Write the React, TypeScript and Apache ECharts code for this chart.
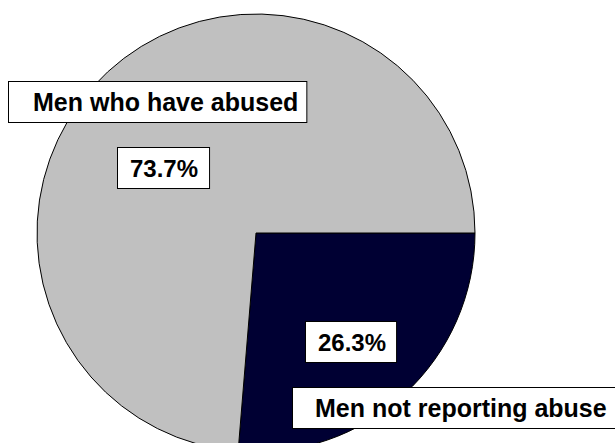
import React, { useEffect, useRef } from "react";
import * as echarts from "echarts";

const categories = ["Men not reporting abuse", "Men who have abused"];
const values = [26.3, 73.7];
const colors = ["#000033", "#C0C0C0"];

export default function App() {
  const ref = useRef<HTMLDivElement>(null);
  useEffect(() => {
    document.body.style.margin = "0";
    const chart = echarts.init(ref.current!, null, { renderer: "svg" });
    const total = values.reduce((a, b) => a + b, 0);
    const pct = values.map((v) => ((v / total) * 100).toFixed(1) + "%");
    const box = (x: number, y: number, text: string, padding: number[], size: number) => ({
      type: "text",
      x,
      y,
      z: 10,
      style: {
        text,
        font: `bold ${size}px 'Liberation Sans', Arial, sans-serif`,
        fill: "#000",
        align: "left",
        verticalAlign: "top",
        lineHeight: 24,
        backgroundColor: "#fff",
        borderColor: "#000",
        borderWidth: 1,
        padding,
      },
    });
    chart.setOption({
      animation: false,
      backgroundColor: "#fff",
      series: [
        {
          type: "pie",
          center: [256, 233],
          radius: [0, 219],
          startAngle: 0,
          clockwise: true,
          label: { show: false },
          labelLine: { show: false },
          emphasis: { disabled: true },
          itemStyle: { borderColor: "#000", borderWidth: 1 },
          data: categories.map((c, i) => ({
            name: c,
            value: values[i],
            itemStyle: { color: colors[i] },
          })),
        },
      ],
      graphic: [
        box(9, 82, categories[1], [8, 8, 8, 24], 25),
        box(118, 148, pct[1], [8, 11, 8, 12], 24),
        box(306, 322, pct[0], [8, 10, 8, 12], 24),
        box(293, 388, categories[0], [8, 40, 8, 22], 25),
      ],
    });
    return () => chart.dispose();
  }, []);
  return (
    <div
      ref={ref}
      style={{ position: "absolute", left: 0, top: 0, width: 615, height: 443 }}
    />
  );
}
